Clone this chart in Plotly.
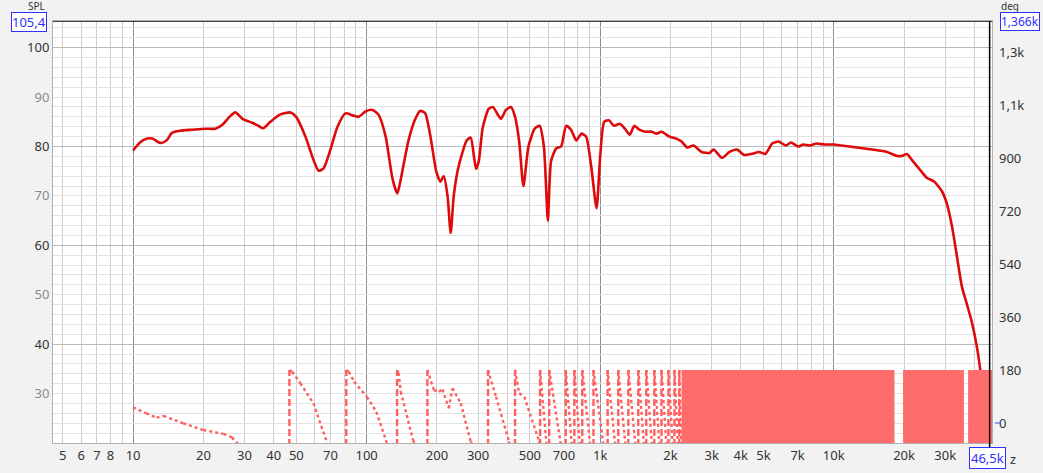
import plotly.graph_objects as go
import math

# ---------------- data ----------------
# SPL magnitude (Hz, dB)
spl_hz = [10, 10.7, 11.5, 12.1, 13.1, 13.9, 14.7, 15.9, 17.9, 20.4, 22.5, 24.1, 26.1, 27.4,
          29.4, 32.4, 34.4, 36.1, 38.7, 42.7, 47.2, 49.9, 54.7, 59.2, 62.2, 65.4, 70, 75,
          81.2, 87.1, 92.4, 99, 106, 112.6, 120.6, 129, 135.3, 140.7, 150.7, 161, 169.4,
          177.8, 187, 198.8, 206.8, 214, 222, 229, 236, 245, 256, 268, 279, 288, 294, 302,
          314, 333, 347, 365, 376, 395, 415, 432, 450, 469, 493, 524, 550, 574, 597, 616,
          648, 680, 715, 750, 790, 830, 870, 915, 965, 1000, 1040, 1090, 1145, 1215, 1275,
          1340, 1400, 1470, 1560, 1660, 1745, 1830, 1980, 2120, 2230, 2360, 2510, 2720,
          2940, 3060, 3320, 3580, 3850, 4130, 4450, 4790, 5100, 5450, 5800, 6240, 6560,
          7040, 7400, 7890, 8450, 9150, 10000, 10800, 12560, 14560, 16900, 18640, 19600,
          20560, 21600, 23400, 25000, 26900, 29100, 30600, 32100, 33700, 35400, 37200,
          39000, 41000, 43100, 45300, 46600]
spl_db = [79.2, 80.8, 81.6, 81.6, 80.7, 81.2, 82.8, 83.2, 83.4, 83.6, 83.6, 84.4, 86.2, 86.9,
          85.6, 84.8, 84.2, 83.7, 85.0, 86.5, 86.9, 86.0, 82.0, 77.3, 75.1, 75.6, 79.4, 84.0,
          86.7, 86.3, 86.0, 87.1, 87.4, 86.4, 82.0, 73.5, 70.5, 73.9, 81.0, 85.4, 87.2,
          86.8, 82.4, 74.9, 72.9, 74.0, 70.0, 62.5, 70.0, 75.0, 78.5, 81.2, 81.8, 78.0, 75.5, 77.0,
          83.8, 87.6, 88.0, 86.4, 85.6, 87.4, 88.0, 86.0, 81.0, 72.0, 80.0, 83.6, 84.2, 80.0, 65.0, 77.0,
          79.6, 80.0, 84.2, 83.4, 81.2, 82.6, 82.0, 76.0, 67.5, 78.0, 85.0, 85.3, 84.2, 84.6, 83.6,
          82.4, 84.2, 83.4, 83.0, 83.0, 82.6, 83.0, 82.0, 81.6, 81.0, 79.8, 80.2, 78.9,
          78.7, 79.4, 77.7, 78.9, 79.4, 78.3, 78.5, 78.9, 78.5, 80.6, 81.0, 80.2, 80.8,
          80.0, 80.4, 80.2, 80.6, 80.4, 80.4, 80.2, 79.8, 79.4, 78.9, 78.1, 78.1,
          78.5, 77.3, 75.3, 73.7, 72.9, 70.9, 68.2, 63.8, 57.7, 51.6, 48.0,
          44.5, 39.5, 32.4, 24.3, 19.6]

# Phase, wrapped to +/-180 deg (a repeated frequency marks a wrap jump)
phase_hz = [10, 11.4, 12.6, 13.5, 16.4, 20, 24.4, 26.5, 28, 46.7,
            46.7, 48, 52, 59.2, 67.8, 81.8,
            81.8, 83.9, 88.4, 100.3, 110, 121, 135,
            135, 137, 140, 158, 182,
            182, 194, 204, 211, 225, 233, 253, 279, 331,
            331, 358, 407, 432,
            432, 450, 473, 548, 553]
phase_deg = [53, 33, 18, 24, -1, -24, -37, -49, -70, -180,
             180, 174, 135, 67, -69, -180,
             180, 174, 140, 89, 38, -58, -180,
             180, 170, 106, -58, -180,
             180, 112, 106, 114, 50, 118, 67, -63, -180,
             180, 89, -63, -180,
             180, 101, 89, -63, -180]
# further wrap frequencies: phase runs 180 -> -180 between successive ones
phase_wrap_hz = [553, 605, 712, 775, 838, 936, 1076, 1195, 1320, 1456, 1575,
                 1705, 1830, 1960, 2080, 2180, 2230]
# where wraps are so dense the phase trace fills solid
band_start_hz = [2230, 19800, 37600]
band_end_hz = [18200, 36100, 47600]

x_tick_hz = [5, 6, 7, 8, 9, 10, 20, 30, 40, 50, 60, 70, 80, 90, 100, 200, 300, 400, 500,
             600, 700, 800, 900, 1000, 2000, 3000, 4000, 5000, 6000, 7000, 8000, 9000,
             10000, 20000, 30000, 40000]
x_tick_text = ["5", "6", "7", "8", "", "10", "20", "30", "40", "50", "", "70", "", "", "100",
               "200", "300", "", "500", "", "700", "", "", "1k", "2k", "3k", "4k", "5k", "",
               "7k", "", "", "10k", "20k", "30k", ""]
decade_hz = [10, 100, 1000, 10000]
spl_ticks = [30, 40, 50, 60, 70, 80, 90, 100]
deg_ticks = [0, 180, 360, 540, 720, 900, 1080, 1260]
deg_text = ["0", "180", "360", "540", "720", "900", "1,1k", "1,3k"]

x_min_hz, x_max_hz = 4.54, 47600
spl_range = [20, 105.4]
deg_range = [-68, 1366]
cursor_hz = 46500
cursor_db = 105.4

# ---------------- build ----------------
L, R, T, B = 53, 51, 21, 30
W, H = 1043, 473
PW, PH = W - L - R, H - T - B


def px(x):
    return (x - L) / PW


def py(y):
    return (H - B - y) / PH


FONT = "Noto Sans, Open Sans, DejaVu Sans, sans-serif"
PH_COL = "rgb(255,95,95)"

fig = go.Figure()

# phase dense bands
for s, e in zip(band_start_hz, band_end_hz):
    fig.add_trace(go.Scatter(x=[s, e, e, s, s], y=[-180, -180, 180, 180, -180], yaxis="y2",
                             mode="lines", fill="toself", fillcolor="rgb(255,108,108)",
                             line=dict(width=0), hoverinfo="skip", showlegend=False))

# phase line points
fx = list(phase_hz)
fy = list(phase_deg)
for a, b in zip(phase_wrap_hz[:-1], phase_wrap_hz[1:]):
    fx += [a, b]
    fy += [180, -180]

sx, sy, jx, jy = [], [], [], []
for i in range(len(fx) - 1):
    if fx[i] == fx[i + 1]:
        jx += [fx[i], fx[i + 1], None]
        jy += [fy[i], fy[i + 1], None]
    else:
        sx += [fx[i], fx[i + 1], None]
        sy += [fy[i], fy[i + 1], None]

fig.add_trace(go.Scatter(x=sx, y=sy, yaxis="y2", mode="lines",
                         line=dict(color=PH_COL, width=2.4, dash="dot"),
                         hoverinfo="skip", showlegend=False))
fig.add_trace(go.Scatter(x=jx, y=jy, yaxis="y2", mode="lines",
                         line=dict(color=PH_COL, width=2.4, dash="7px,3px"),
                         hoverinfo="skip", showlegend=False))

# SPL
fig.add_trace(go.Scatter(x=spl_hz, y=spl_db, mode="lines",
                         line=dict(color="rgb(222,10,10)", width=2.6, shape="spline", smoothing=0.6),
                         hoverinfo="skip", showlegend=False))

# dummy traces so grid axes render
fig.add_trace(go.Scatter(x=[None], y=[None], xaxis="x2", yaxis="y3", showlegend=False))
fig.add_trace(go.Scatter(x=[None], y=[None], xaxis="x2", yaxis="y4", showlegend=False))

xr = [math.log10(x_min_hz), math.log10(x_max_hz)]

spl_text = []
for v in spl_ticks:
    if v % 20 == 0:
        spl_text.append(str(v))
    else:
        spl_text.append("<span style='color:#8a8a8a'>%d</span>" % v)

fig.update_layout(
    width=W, height=H,
    margin=dict(l=L, r=R, t=T, b=B, autoexpand=False),
    paper_bgcolor="#f2f2f2", plot_bgcolor="white",
    font=dict(family=FONT, size=13, color="#333333"),
    xaxis=dict(type="log", range=xr, tickvals=x_tick_hz, ticktext=x_tick_text,
               showgrid=True, gridcolor="#cfcfcf", gridwidth=1, zeroline=False,
               ticks="", showline=True, linecolor="#b0b0b0", mirror=True, automargin=False,
               tickfont=dict(size=13, color="#333")),
    xaxis2=dict(type="log", range=xr, overlaying="x", tickvals=decade_hz, showticklabels=False,
                showgrid=True, gridcolor="#8c8c8c", gridwidth=1, zeroline=False, ticks="",
                automargin=False),
    yaxis=dict(range=spl_range, tickvals=spl_ticks, ticktext=spl_text, showgrid=True,
               gridcolor="#cdcdcd", zeroline=False, ticks="", showline=True,
               linecolor="#b0b0b0", mirror=True, ticklabelstandoff=0, automargin=False,
               tickfont=dict(size=13, color="#333")),
    yaxis3=dict(range=spl_range, overlaying="y", dtick=2, tick0=0, showticklabels=False,
                showgrid=True, gridcolor="#e2e2e2", zeroline=False, ticks="", automargin=False),
    yaxis4=dict(range=spl_range, overlaying="y", dtick=20, tick0=0, showticklabels=False,
                showgrid=True, gridcolor="#b8b8b8", zeroline=False, ticks="", automargin=False),
    yaxis2=dict(range=deg_range, overlaying="y", side="right", tickvals=deg_ticks,
                ticktext=deg_text, showgrid=False, zeroline=False, ticks="", automargin=False,
                ticklabelstandoff=6, tickfont=dict(size=13, color="#333")),
)

# cursor lines
fig.add_shape(type="line", xref="x", yref="paper", x0=cursor_hz, x1=cursor_hz, y0=py(448), y1=1,
              line=dict(color="black", width=1.5))
fig.add_shape(type="line", xref="paper", yref="y", x0=0, x1=px(992), y0=cursor_db, y1=cursor_db,
              line=dict(color="black", width=1.5))
fig.add_shape(type="line", xref="paper", yref="y2", x0=px(995), x1=px(1001), y0=0, y1=0,
              line=dict(color="#3050ff", width=1))

BLUE = "#2f2fff"
ann = dict(showarrow=False, xref="paper", yref="paper")
fig.add_annotation(text="SPL", x=px(36), y=py(6.5), xanchor="center", yanchor="middle",
                   font=dict(size=10, color="#333"), **ann)
fig.add_annotation(text="deg", x=px(1010), y=py(6.5), xanchor="center", yanchor="middle",
                   font=dict(size=10, color="#333"), **ann)
fig.add_annotation(text="105,4", x=px(29), y=py(21.5), xanchor="center", yanchor="middle",
                   font=dict(size=13, color=BLUE), bgcolor="white", bordercolor=BLUE,
                   borderwidth=1, borderpad=0, **ann)
fig.add_annotation(text="1,366k", x=px(1000), y=py(21.5), xanchor="left", yanchor="middle",
                   font=dict(size=12, color=BLUE), bgcolor="white", bordercolor=BLUE,
                   borderwidth=1, borderpad=0, **ann)
fig.add_annotation(text="46,5k", x=px(987), y=py(458.5), xanchor="center", yanchor="middle",
                   font=dict(size=13, color=BLUE), bgcolor="white", bordercolor=BLUE,
                   borderwidth=1, borderpad=1, **ann)
fig.add_annotation(text="z", x=px(1008), y=py(459), xanchor="left", yanchor="middle",
                   font=dict(size=13, color="#333"), **ann)

fig.write_html("out.html", config={"displayModeBar": False},
               post_script="document.body.style.margin='0';document.body.style.padding='0';"
                           "document.body.style.overflow='hidden';")
